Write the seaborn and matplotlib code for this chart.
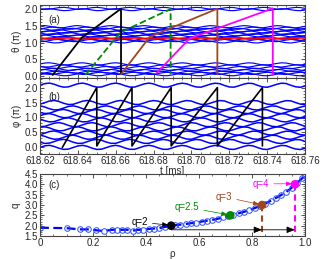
import numpy as np
import pandas as pd
import matplotlib
matplotlib.use("Agg")
import matplotlib.pyplot as plt
import seaborn as sns
from matplotlib.ticker import MultipleLocator, FixedLocator, NullFormatter

# ---------------- data ----------------
T0, DT, NT = 618.62, 0.0025, 57
t_grid = [round(T0 + DT * i, 4) for i in range(NT)]

# wave shape (one period ~ 0.018 ms)
wave = [0.0, 0.75, 1.0, 0.45, -0.4, -0.95, -0.8, -0.05, 0.7, 1.0, 0.5, -0.35,
        -0.95, -0.85, -0.1, 0.65, 1.0, 0.55, -0.3, -0.9, -0.9, -0.15, 0.6, 1.0,
        0.6, -0.25, -0.9, -0.9, -0.2, 0.55, 0.95, 0.65, -0.2, -0.85, -0.95, -0.25,
        0.5, 0.95, 0.7, -0.15, -0.85, -0.95, -0.3, 0.45, 0.95, 0.75, -0.1, -0.8,
        -1.0, -0.35, 0.4, 0.95, 0.8, -0.05, -0.75, -1.0, -0.4, 0.35, 0.9, 0.8,
        0.0, -0.75, -1.0, -0.45, 0.3, 0.9, 0.85, 0.05, -0.7, -1.0, -0.5, 0.25]

# panel (a): theta levels of blue field lines (in pi)
theta_low = [0.04, 0.08, 0.12, 0.16, 0.20, 0.25, 0.30, 0.36]
theta_mid = [1.02, 1.06, 1.10, 1.15, 1.19, 1.23, 1.27, 1.31, 1.35, 1.39, 1.43, 1.47]
theta_top = [1.98, 2.02]
theta_red = 1.12
shift_low = [0, 3, 5, 1, 6, 2, 4, 0]
shift_mid = [2, 5, 0, 4, 1, 6, 3, 0, 5, 2, 6, 1]
shift_top = [0, 4]

# panel (b): phi levels of blue field lines (in pi)
phi_levels = [0.0, 0.2, 0.34, 0.48, 0.62, 0.76, 0.92, 1.06, 1.2, 1.32, 1.5, 2.08]
phi_shift = [0, 4, 2, 6, 1, 5, 3, 0, 4, 2, 6, 0]

# trajectories in panel (a)
blk_t = [618.6267, 618.6420, 618.6628, 618.6628]
blk_th = [0.03, 1.14, 2.01, 0.06]
grn_t = [618.6440, 618.6624, 618.6890, 618.6890]
grn_th = [0.03, 1.30, 2.00, 0.05]
brn_t = [618.6628, 618.6780, 618.7137, 618.7137]
brn_th = [0.05, 1.17, 2.01, 0.05]
mag_t = [618.6815, 618.6990, 618.7430, 618.7430]
mag_th = [0.08, 1.12, 2.02, 0.03]

# sawtooth in panel (b)
saw_t = [618.6318, 618.6500, 618.6500, 618.6686, 618.6686, 618.6893, 618.6893,
         618.7137, 618.7137, 618.7375, 618.7375]
saw_phi = [0.0, 2.0, 0.05, 2.0, 0.05, 2.0, 0.05, 2.0, 0.05, 2.0, 0.05]

# panel (c): q profile
rho = [0.0, 0.10, 0.15, 0.18, 0.21, 0.24, 0.27, 0.29, 0.31, 0.33, 0.35, 0.37, 0.39,
       0.41, 0.43, 0.45, 0.47, 0.49, 0.51, 0.53, 0.55, 0.57, 0.59, 0.61, 0.63, 0.65,
       0.67, 0.69, 0.71, 0.73, 0.75, 0.77, 0.79, 0.81, 0.83, 0.85, 0.87, 0.89, 0.91,
       0.93, 0.95, 0.97, 0.99, 1.0]
qval = [1.90, 1.88, 1.82, 1.82, 1.78, 1.74, 1.80, 1.80, 1.80, 1.80, 1.76, 1.80, 1.80,
        1.84, 1.86, 1.88, 1.94, 1.97, 2.02, 2.05, 2.08, 2.12, 2.14, 2.20, 2.24, 2.28,
        2.33, 2.40, 2.47, 2.53, 2.60, 2.67, 2.76, 2.85, 2.95, 3.07, 3.20, 3.34, 3.48,
        3.64, 3.84, 4.06, 4.30, 4.45]
res_labels = ["q=2", "q=2.5", "q=3", "q=4"]
res_rho = [0.495, 0.718, 0.838, 0.962]
res_q = [2.0, 2.5, 3.0, 4.0]
res_colors = ["black", "#008a00", "#a0461a", "#ff00ff"]
lab_rho = [0.376, 0.555, 0.694, 0.834]
lab_q = [2.17, 2.90, 3.40, 4.02]
arrow_q = 1.80

x_ticks_ab = [618.62, 618.64, 618.66, 618.68, 618.70, 618.72, 618.74, 618.76]
x_ticklabels_ab = ["618.62", "618.64", "618.66", "618.68", "618.70", "618.72", "618.74", "618.76"]
x_ticks_c = [0, 0.2, 0.4, 0.6, 0.8, 1.0]
x_ticklabels_c = ["0", "0.2", "0.4", "0.6", "0.8", "1.0"]

# ---------------- helpers ----------------
def band_df(levels, shifts, amp):
    rows = []
    for k, (lv, sh) in enumerate(zip(levels, shifts)):
        seg = wave[sh:sh + NT]
        for t, w in zip(t_grid, seg):
            rows.append((k, t, lv + amp * w))
    return pd.DataFrame(rows, columns=["line", "t", "v"])

sns.set_style("ticks")
plt.rcParams["font.family"] = ["Liberation Sans", "DejaVu Sans"]
plt.rcParams["font.size"] = 7
plt.rcParams["axes.linewidth"] = 0.8

fig = plt.figure(figsize=(3.30, 2.59), dpi=100)
L, W = 40 / 330, 265 / 330
ax_a = fig.add_axes([L, 1 - 78 / 259, W, 73 / 259])
ax_b = fig.add_axes([L, 1 - 154 / 259, W, 76 / 259])
ax_c = fig.add_axes([L, 1 - 236 / 259, W, 62 / 259])

def style(ax):
    ax.tick_params(which="both", direction="in", top=True, right=True, labelsize=7,
                   pad=1.5, color="#333333")
    ax.tick_params(which="major", length=3, width=0.6)
    ax.tick_params(which="minor", length=1.5, width=0.5)
    for s in ax.spines.values():
        s.set_color("#444444")

# ---- panel (a)
for lv, sh, amp in [(theta_low, shift_low, 0.035), (theta_mid, shift_mid, 0.035),
                    (theta_top, shift_top, 0.03)]:
    sns.lineplot(data=band_df(lv, sh, amp), x="t", y="v", units="line", estimator=None,
                 color="#0000ff", lw=0.85, ax=ax_a, legend=False)
sns.lineplot(data=band_df([theta_red], [3], 0.02), x="t", y="v", units="line",
             estimator=None, color="#ff0000", lw=1.3, ax=ax_a, legend=False)
for tt, vv, col, ls in [(blk_t, blk_th, "black", "-"), (grn_t, grn_th, "#008a00", "--"),
                        (brn_t, brn_th, "#a0461a", "-"), (mag_t, mag_th, "#ff00ff", "-")]:
    sns.lineplot(x=tt, y=vv, sort=False, color=col, lw=1.3, ls=ls, ax=ax_a,
                 estimator=None)
ax_a.set_xlim(618.62, 618.76)
ax_a.set_ylim(-0.06, 2.12)
ax_a.xaxis.set_major_locator(FixedLocator(x_ticks_ab))
ax_a.xaxis.set_minor_locator(MultipleLocator(0.005))
ax_a.xaxis.set_major_formatter(NullFormatter())
ax_a.yaxis.set_major_locator(MultipleLocator(0.5))
ax_a.yaxis.set_minor_locator(MultipleLocator(0.1))
ax_a.set_xlabel("")
ax_a.set_ylabel("θ (π)", fontsize=7, labelpad=2)
ax_a.text(0.03, 0.8, "(a)", transform=ax_a.transAxes, fontsize=7, va="center")
style(ax_a)

# ---- panel (b)
sns.lineplot(data=band_df(phi_levels, phi_shift, 0.07), x="t", y="v", units="line",
             estimator=None, color="#0000ff", lw=1.1, ax=ax_b, legend=False)
sns.lineplot(x=saw_t, y=saw_phi, sort=False, color="black", lw=1.2, ax=ax_b,
             estimator=None)
ax_b.set_xlim(618.62, 618.76)
ax_b.set_ylim(-0.22, 2.32)
ax_b.xaxis.set_major_locator(FixedLocator(x_ticks_ab))
ax_b.set_xticklabels(x_ticklabels_ab)
ax_b.xaxis.set_minor_locator(MultipleLocator(0.005))
ax_b.yaxis.set_major_locator(MultipleLocator(0.5))
ax_b.yaxis.set_minor_locator(MultipleLocator(0.1))
ax_b.set_xlabel("t [ms]", fontsize=7, labelpad=0)
ax_b.set_ylabel("φ (π)", fontsize=7, labelpad=2)
ax_b.text(0.03, 0.75, "(b)", transform=ax_b.transAxes, fontsize=7, va="center")
style(ax_b)

# ---- panel (c)
sns.lineplot(x=rho, y=qval, sort=False, color="#0000ff", lw=1.6, ax=ax_c,
             estimator=None, marker="o", markersize=4.0, markerfacecolor="none",
             markeredgecolor="#2a4cff", markeredgewidth=0.7)
ax_c.lines[-1].set_dashes([4, 2])
pc = pd.DataFrame({"rho": res_rho, "q": res_q, "lab": res_labels})
sns.scatterplot(data=pc, x="rho", y="q", hue="lab", palette=res_colors, s=38,
                edgecolor="none", ax=ax_c, legend=False, zorder=4)
ax_c.plot([res_rho[2], res_rho[2]], [res_q[2], 1.5], ls=(0, (3, 2)),
          color=res_colors[2], lw=1.5, zorder=2)
ax_c.plot([res_rho[3], res_rho[3]], [res_q[3], 1.5], ls=(0, (3, 2)),
          color=res_colors[3], lw=1.5, zorder=2)
for a, b in [(res_rho[0], res_rho[2]), (res_rho[2], res_rho[3])]:
    ax_c.annotate("", xy=(b, arrow_q), xytext=(a, arrow_q),
                  arrowprops=dict(arrowstyle="-|>,head_length=0.7,head_width=0.28",
                                  color="black", lw=0.6, shrinkA=0, shrinkB=0,
                                  mutation_scale=7))
for lab, lr, lq, r, q, col in zip(res_labels, lab_rho, lab_q, res_rho, res_q, res_colors):
    ax_c.annotate(lab, xy=(r - 0.01, q + 0.03), xytext=(lr, lq), ha="center",
                  va="center", color=col, fontsize=7,
                  arrowprops=dict(arrowstyle="-|>,head_length=0.6,head_width=0.22",
                                  color=col, lw=0.5, shrinkA=1, shrinkB=0,
                                  mutation_scale=6))
ax_c.set_xlim(0, 1.0)
ax_c.set_ylim(1.5, 4.5)
ax_c.xaxis.set_major_locator(FixedLocator(x_ticks_c))
ax_c.set_xticklabels(x_ticklabels_c)
ax_c.xaxis.set_minor_locator(MultipleLocator(0.05))
ax_c.yaxis.set_major_locator(MultipleLocator(0.5))
ax_c.yaxis.set_minor_locator(MultipleLocator(0.1))
ax_c.set_xlabel("ρ", fontsize=7, labelpad=1)
ax_c.set_ylabel("q", fontsize=7, labelpad=3)
ax_c.text(0.03, 0.82, "(c)", transform=ax_c.transAxes, fontsize=7, va="center")
style(ax_c)

fig.savefig("out.png", dpi=100)
